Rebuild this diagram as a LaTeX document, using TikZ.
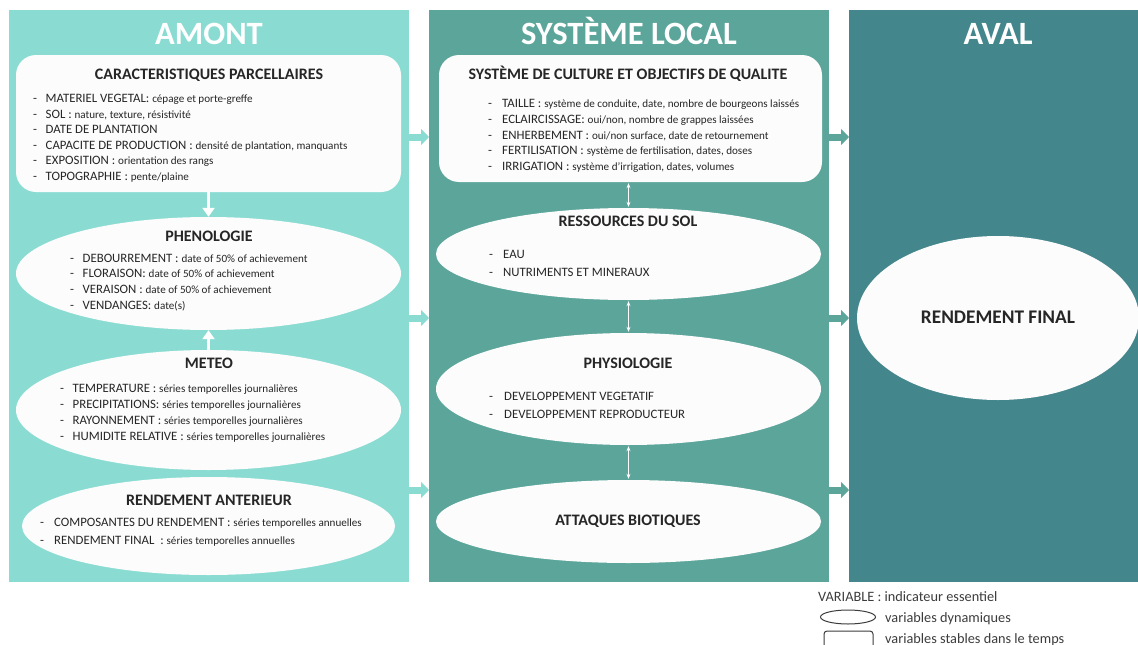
\documentclass[tikz,border=0pt]{standalone}
\usepackage{fontspec}
\setmainfont{Carlito}
\usetikzlibrary{arrows.meta,positioning,shapes.geometric}

\definecolor{amontc}{RGB}{138,220,211}
\definecolor{sysc}{RGB}{91,165,154}
\definecolor{avalc}{RGB}{67,134,140}
\definecolor{boxc}{RGB}{252,252,252}
\definecolor{txtc}{RGB}{38,38,38}
\definecolor{legc}{RGB}{60,60,60}

\newcommand{\descsize}{\fontsize{11.1}{13}\selectfont}
\newcommand{\itm}[2]{\makebox[12.5pt][l]{-}#1 {\descsize #2}}

\begin{document}
\begin{tikzpicture}[x=1pt,y=-1pt,>=Stealth,
  panel/.style={rectangle,inner sep=0,anchor=north west},
  header/.style={text=white,anchor=base,font=\fontsize{32.5}{38}\selectfont\bfseries},
  cadre/.style={rectangle,rounded corners=20pt,fill=boxc,inner sep=0},
  bulle/.style={ellipse,fill=boxc,inner sep=0},
  titre/.style={text=txtc,font=\fontsize{16}{19}\selectfont\bfseries,
    text height=11pt,text depth=0pt},
  item/.style={text=txtc,anchor=west,inner sep=0,font=\fontsize{12.8}{15}\selectfont,
    text height=9pt,text depth=0pt},
  legende/.style={text=legc,anchor=west,inner sep=0,font=\fontsize{14.3}{17}\selectfont,
    text height=10pt,text depth=0pt},
  bigflow/.style={line width=7pt,-{Triangle[width=16pt,length=8pt]}},
  whiteflow/.style={white,line width=2.5pt,-{Triangle[width=12pt,length=9pt]}},
  link/.style={white,line width=1pt,{Stealth[length=5pt,width=4pt]}-{Stealth[length=5pt,width=4pt]},
    shorten <=1pt,shorten >=1pt}
]
  \useasboundingbox (0,0) rectangle (1138,645);

  % colonnes
  \node[panel,fill=amontc,minimum width=400pt,minimum height=572pt] (amont) at (9,10) {};
  \node[panel,fill=sysc,minimum width=400pt,minimum height=572pt] (sysloc) at (429,10) {};
  \node[panel,fill=avalc,minimum width=292pt,minimum height=572pt] (aval) at (849,10) {};
  \node[header] (amontt) at (209,44) {AMONT};
  \node[header] (syslot) at (629,44) {SYSTÈME LOCAL};
  \node[header] (avalt) at (998,44) {AVAL};

  % fleches entre colonnes
  \foreach \y in {137,318,490} {
    \draw[bigflow,amontc] (amont.east |- 0,\y) -- (sysloc.west |- 0,\y);
    \draw[bigflow,sysc] (sysloc.east |- 0,\y) -- (aval.west |- 0,\y);
  }

  % AMONT
  \node[cadre,minimum width=385pt,minimum height=137pt] (caract) at (208.5,123.5) {};
  \node[bulle,minimum width=385pt,minimum height=113pt] (pheno) at (208.5,273.5) {};
  \node[bulle,minimum width=385pt,minimum height=120pt] (meteo) at (208.5,410) {};
  \node[bulle,minimum width=373pt,minimum height=98pt] (rendant) at (208.5,526) {};
  \draw[whiteflow] (caract) -- (pheno);
  \draw[whiteflow] (meteo) -- (pheno);

  \node[titre] (caractt) at (209,74) {CARACTERISTIQUES PARCELLAIRES};
  \foreach \y/\a/\b [count=\i] in {98/{MATERIEL VEGETAL:}/{cépage et porte-greffe},
      114/{SOL :}/{nature, texture, résistivité},
      129/{DATE DE PLANTATION}/{},
      145/{CAPACITE DE PRODUCTION :}/{densité de plantation, manquants},
      160/{EXPOSITION :}/{orientation des rangs},
      176/{TOPOGRAPHIE :}/{pente/plaine}}
    \node[item] (cp\i) at (33,\y) {\itm{\a}{\b}};

  \node[titre] (phenot) at (209,236) {PHENOLOGIE};
  \foreach \y/\a/\b [count=\i] in {258/{DEBOURREMENT :}/{date of 50\% of achievement},
      273/{FLORAISON:}/{date of 50\% of achievement},
      289/{VERAISON :}/{date of 50\% of achievement},
      305/{VENDANGES:}/{date(s)}}
    \node[item] (ph\i) at (70,\y) {\itm{\a}{\b}};

  \node[titre] (meteot) at (209,363) {METEO};
  \foreach \y/\a/\b [count=\i] in {388/{TEMPERATURE :}/{séries temporelles journalières},
      404/{PRECIPITATIONS:}/{séries temporelles journalières},
      420/{RAYONNEMENT :}/{séries temporelles journalières},
      436/{HUMIDITE RELATIVE :}/{séries temporelles journalières}}
    \node[item] (me\i) at (60,\y) {\itm{\a}{\b}};

  \node[titre] (rendantt) at (209,500) {RENDEMENT ANTERIEUR};
  \foreach \y/\a/\b [count=\i] in {522/{COMPOSANTES DU RENDEMENT :}/{séries temporelles annuelles},
      540/{RENDEMENT FINAL\ \ :}/{séries temporelles annuelles}}
    \node[item] (ra\i) at (40,\y) {\makebox[14pt][l]{-}\a{} {\descsize\b}};

  % SYSTEME LOCAL
  \node[cadre,minimum width=383pt,minimum height=127pt] (cult) at (630.5,118.5) {};
  \node[bulle,minimum width=385pt,minimum height=92pt] (sol) at (628.5,254) {};
  \node[bulle,minimum width=385pt,minimum height=112pt] (physio) at (628.5,389) {};
  \node[bulle,minimum width=385pt,minimum height=83pt] (attaq) at (628.5,521.5) {};
  \draw[link] (cult.south -| sol.north) -- (sol.north);
  \draw[link] (sol) -- (physio);
  \draw[link] (physio) -- (attaq);

  \node[titre] (cultt) at (628,74) {SYSTÈME DE CULTURE ET OBJECTIFS DE QUALITE};
  \foreach \y/\a/\b [count=\i] in {103/{TAILLE :}/{système de conduite, date, nombre de bourgeons laissés},
      119/{ECLAIRCISSAGE:}/{oui/non, nombre de grappes laissées},
      135/{ENHERBEMENT :}/{oui/non surface, date de retournement},
      150/{FERTILISATION :}/{système de fertilisation, dates, doses},
      166/{IRRIGATION :}/{système d’irrigation, dates, volumes}}
    \node[item] (cu\i) at (488,\y) {\makebox[14pt][l]{-}\a{} {\descsize\b}};

  \node[titre] (solt) at (628,221) {RESSOURCES DU SOL};
  \node[item] (so1) at (489,254) {\makebox[14pt][l]{-}EAU};
  \node[item] (so2) at (489,272) {\makebox[14pt][l]{-}NUTRIMENTS ET MINERAUX};

  \node[titre] (physiot) at (628,363) {PHYSIOLOGIE};
  \node[item] (py1) at (489,396) {\makebox[15pt][l]{-}DEVELOPPEMENT VEGETATIF};
  \node[item] (py2) at (489,414) {\makebox[15pt][l]{-}DEVELOPPEMENT REPRODUCTEUR};

  \node[titre] (attaqt) at (628,520) {ATTAQUES BIOTIQUES};

  % AVAL
  \node[bulle,minimum width=282pt,minimum height=164pt] (final) at (998,318) {};
  \node[titre,font=\fontsize{19.3}{23}\selectfont\bfseries,text height=13pt] (finalt) at (998,317) {RENDEMENT FINAL};

  % legende
  \node[legende] (legvar) at (818,596) {VARIABLE : indicateur essentiel};
  \node[draw=legc,line width=1pt,ellipse,minimum width=55pt,minimum height=14pt,inner sep=0] (legell) at (848,617) {};
  \node[legende] (legdyn) at (885,617) {variables dynamiques};
  \node[draw=legc,line width=1pt,rounded corners=3pt,minimum width=49pt,minimum height=24pt,inner sep=0] (legbox) at (848.5,643) {};
  \node[legende] (legsta) at (885,638) {variables stables dans le temps};
\end{tikzpicture}
\end{document}
